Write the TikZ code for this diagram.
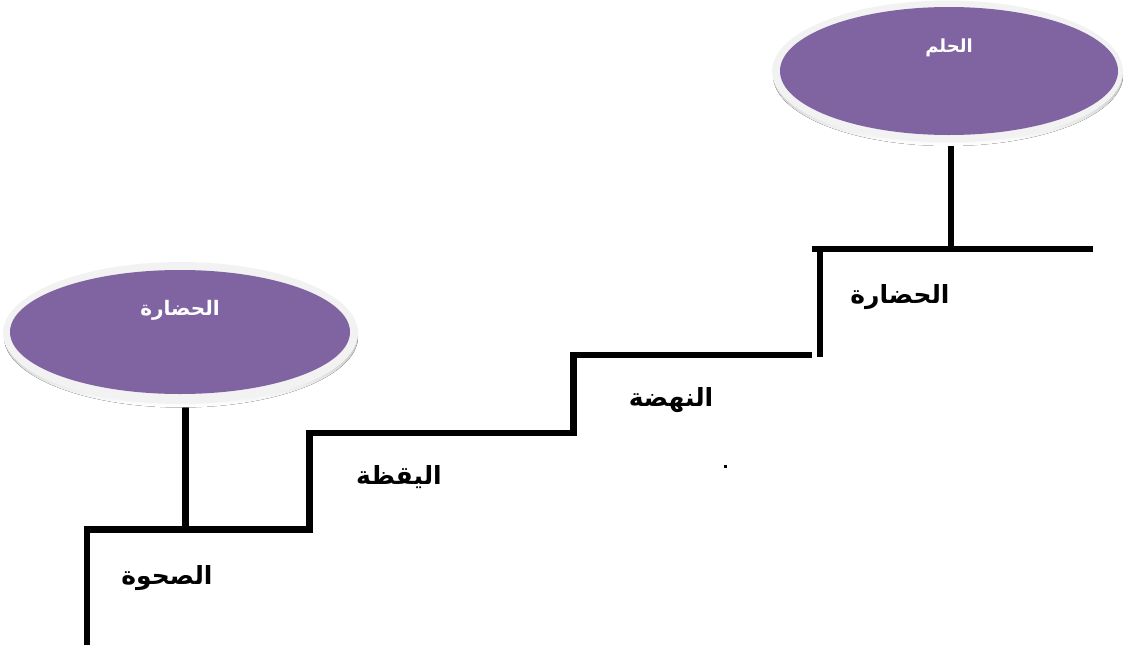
\documentclass[tikz,border=0pt]{standalone}
\usepackage{fontspec}
\usetikzlibrary{shapes.geometric}
\TeXXeTstate=1
\newfontfamily\arabicfont[Script=Arabic]{DejaVu Sans}
\definecolor{purp}{HTML}{8064A2}
\definecolor{rim}{HTML}{F2F2F2}
\definecolor{shade}{RGB}{125,115,140}
\begin{document}
\begin{tikzpicture}[x=1pt,y=-1pt,
  stair/.style={line width=6.5pt,black,line join=miter},
  link/.style={line width=6.5pt,black},
  bubble/.style={ellipse,fill=purp,inner sep=0pt},
  steplabel/.style={font=\arabicfont\bfseries\fontsize{25}{28}\selectfont,text=black,inner sep=0pt},
  bubblelabel/.style={font=\arabicfont\bfseries\fontsize{18}{21}\selectfont,text=white,inner sep=0pt}]
\useasboundingbox (0,0) rectangle (1124,648);

% coordinates
\coordinate (s0) at (87,645);
\coordinate (s1) at (87,529.5);
\coordinate (s2) at (309.5,529.5);
\coordinate (s3) at (309.5,433);
\coordinate (s4) at (573.5,433);
\coordinate (s5) at (573.5,355);
\coordinate (s6) at (812,355);
\coordinate (t0) at (820,357);
\coordinate (t1) at (820,249);
\coordinate (t1l) at (812,249);
\coordinate (t2) at (1093,249);
\coordinate (a1) at (185.5,529.5);
\coordinate (a2) at (951,249);
\coordinate (c1) at (185.5,380);
\coordinate (c2) at (951,120);

% connectors (behind bubbles)
\draw[link] (c1) -- (a1);
\draw[link] (c2) -- (a2);

% top-right bubble
\fill[shade] (948,75) ellipse [x radius=175pt, y radius=71pt];
\fill[rim] (947.5,71.5) ellipse [x radius=175.5pt, y radius=71pt];
\node[bubble,minimum width=338pt,minimum height=128pt] (dream) at (949,71) {};
\node[bubblelabel] (dreamtxt) at (949,48) {\beginR الحلم\endR};

% left bubble
\fill[shade] (181,336.5) ellipse [x radius=177pt, y radius=71pt];
\fill[rim] (180.5,333) ellipse [x radius=177.5pt, y radius=71pt];
\node[bubble,minimum width=340pt,minimum height=124pt] (civ) at (180,332) {};
\node[bubblelabel,font=\arabicfont\bfseries\fontsize{20}{23}\selectfont] (civtxt) at (180,310) {\beginR الحضارة\endR};

% stairs
\draw[stair] (s0) -- (s1) -- (s2) -- (s3) -- (s4) -- (s5) -- (s6);
\draw[stair] (t0) -- (t1);
\draw[stair] (t1l) -- (t2);

% step labels
\node[steplabel] (l1) at (167,578) {\beginR الصحوة\endR};
\node[steplabel] (l2) at (399,477) {\beginR اليقظة\endR};
\node[steplabel] (l3) at (671,400) {\beginR النهضة\endR};
\node[steplabel] (l4) at (900,297) {\beginR الحضارة\endR};

% stray dot
\fill (723.5,465) rectangle (726.5,467.5);
\end{tikzpicture}
\end{document}
